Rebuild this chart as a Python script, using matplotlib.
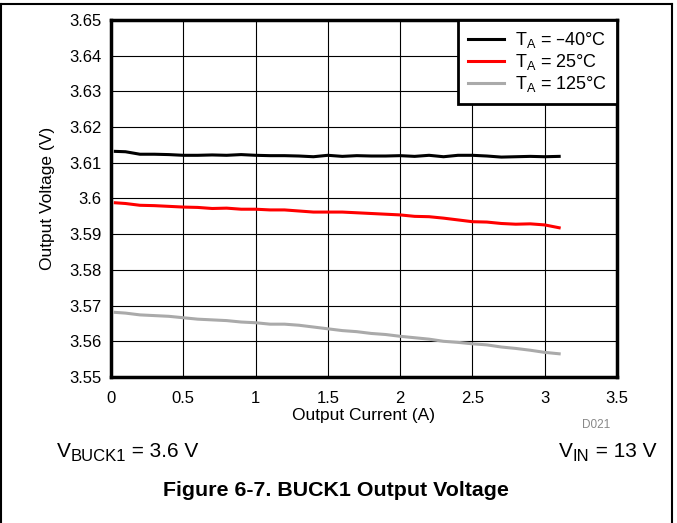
import matplotlib
matplotlib.use("Agg")
import matplotlib.pyplot as plt
from matplotlib.lines import Line2D
from matplotlib.transforms import offset_copy

plt.rcParams['font.family'] = ['Liberation Sans', 'DejaVu Sans']
plt.rcParams['mathtext.default'] = 'regular'

current = [0.03, 0.1, 0.2, 0.3, 0.4, 0.5, 0.6, 0.7, 0.8, 0.9, 1.0, 1.1, 1.2, 1.3, 1.4, 1.5,
           1.6, 1.7, 1.8, 1.9, 2.0, 2.1, 2.2, 2.3, 2.4, 2.5, 2.6, 2.7, 2.8, 2.9, 3.0, 3.1]

v_m40 = [3.6132, 3.6131, 3.6124, 3.6124, 3.6123, 3.6121, 3.6121, 3.6122, 3.6121, 3.6123,
         3.6121, 3.6120, 3.6120, 3.6119, 3.6117, 3.6121, 3.6118, 3.6120, 3.6119, 3.6119,
         3.6120, 3.6118, 3.6121, 3.6117, 3.6121, 3.6121, 3.6119, 3.6116, 3.6117, 3.6118,
         3.6117, 3.6118]

v_25 = [3.5988, 3.5986, 3.5981, 3.5980, 3.5978, 3.5976, 3.5975, 3.5972, 3.5973, 3.5970,
        3.5970, 3.5968, 3.5968, 3.5965, 3.5962, 3.5962, 3.5962, 3.5960, 3.5958, 3.5956,
        3.5954, 3.5950, 3.5949, 3.5945, 3.5940, 3.5935, 3.5934, 3.5930, 3.5928, 3.5929,
        3.5926, 3.5918]

v_125 = [3.5681, 3.5679, 3.5674, 3.5672, 3.5670, 3.5666, 3.5662, 3.5660, 3.5658, 3.5654,
         3.5652, 3.5648, 3.5648, 3.5645, 3.5640, 3.5635, 3.5630, 3.5627, 3.5622, 3.5619,
         3.5614, 3.5610, 3.5606, 3.5600, 3.5597, 3.5593, 3.5590, 3.5584, 3.5580, 3.5575,
         3.5569, 3.5565]

labels = ['T$_{A}$ = \u201340\u00b0C', 'T$_{A}$ = 25\u00b0C', 'T$_{A}$ = 125\u00b0C']
colors = ['black', '#ff0000', '#aaaaaa']

x_ticks = [0, 0.5, 1, 1.5, 2, 2.5, 3, 3.5]
x_ticklabels = ['0', '0.5', '1', '1.5', '2', '2.5', '3', '3.5']
y_ticks = [3.55, 3.56, 3.57, 3.58, 3.59, 3.6, 3.61, 3.62, 3.63, 3.64, 3.65]
y_ticklabels = ['3.55', '3.56', '3.57', '3.58', '3.59', '3.6', '3.61', '3.62', '3.63', '3.64', '3.65']

fig = plt.figure(figsize=(6.77, 5.23), dpi=100)
ax = fig.add_axes([111 / 677, 1 - 377 / 523, 506 / 677, 357 / 523])

for ys, lab, col in zip([v_m40, v_25, v_125], labels, colors):
    ax.plot(current, ys, color=col, lw=2.2, label=lab)

ax.set_xlim(0, 3.5)
ax.set_ylim(3.55, 3.65)
ax.set_xticks(x_ticks)
ax.set_xticklabels(x_ticklabels)
ax.set_yticks(y_ticks)
ax.set_yticklabels(y_ticklabels)
ax.tick_params(length=0, labelsize=12)
ax.tick_params(axis='x', pad=10)
ax.tick_params(axis='y', pad=7)
ax.grid(True, color='black', lw=0.8)
ax.set_axisbelow(True)
for s in ax.spines.values():
    s.set_linewidth(2.5)

ax.set_xlabel('Output Current (A)', fontsize=12.5, labelpad=1.5)
ax.set_ylabel('Output Voltage (V)', fontsize=12.5, labelpad=10)

leg = ax.legend(loc='upper right', fontsize=13, frameon=True, fancybox=False,
                borderaxespad=0, handlelength=2.0, handletextpad=0.6,
                labelspacing=0.12, borderpad=0.55)
leg.get_frame().set_edgecolor('black')
leg.get_frame().set_linewidth(2)
leg.get_frame().set_alpha(1)


def sub_text(x_px, y_px, parts, ha='left'):
    # parts: list of (string, fontsize, y offset in px); laid out left to right
    renderer = fig.canvas.get_renderer()
    widths = []
    for s, size, dy in parts:
        t = fig.text(0, 0, s, fontsize=size)
        widths.append(t.get_window_extent(renderer).width)
        t.remove()
    total = sum(widths)
    x0 = x_px if ha == 'left' else x_px - total
    for (s, size, dy), w in zip(parts, widths):
        tr = offset_copy(fig.transFigure, fig=fig, x=0, y=0, units='dots')
        fig.text(x0 / 677, 1 - (y_px - dy) / 523, s, fontsize=size, ha='left',
                 va='baseline', transform=tr)
        x0 += w


sub_text(57, 457, [('V', 15, 0), ('BUCK1', 12, -4), (' = 3.6 V', 15, 0)])
sub_text(656, 457, [('V', 15, 0), ('IN', 12, -4), (' = 13 V', 15, 0)], ha='right')

fig.text(610 / 677, 1 - 425 / 523, 'D021', fontsize=8.5, color='#888888', ha='right', va='center')
fig.text(336 / 677, 1 - 490 / 523, 'Figure 6-7. BUCK1 Output Voltage', fontsize=15.4,
         fontweight='bold', ha='center', va='center')

# page frame
fig.add_artist(Line2D([0, 672 / 677], [1 - 4 / 523, 1 - 4 / 523], color='black', lw=1.5,
                      transform=fig.transFigure))
fig.add_artist(Line2D([672 / 677, 672 / 677], [1 - 4 / 523, 0], color='black', lw=1.5,
                      transform=fig.transFigure))
fig.add_artist(Line2D([0.5 / 677, 0.5 / 677], [1 - 4 / 523, 0], color='black', lw=1.5,
                      transform=fig.transFigure))

fig.savefig('out.png', dpi=100)
